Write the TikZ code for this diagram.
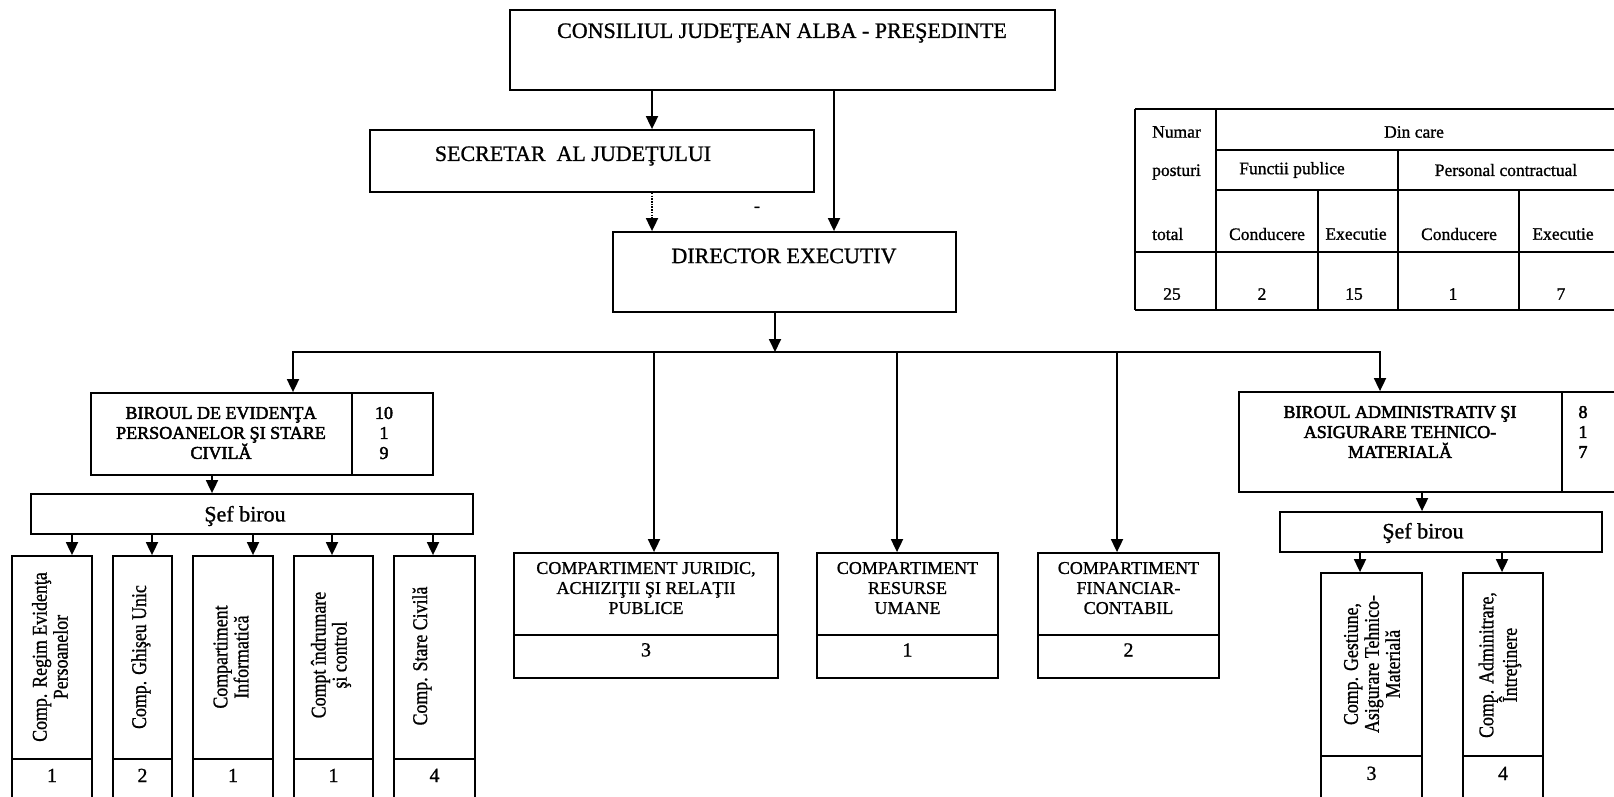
\documentclass[tikz,border=0pt]{standalone}
\usepackage{fontspec}
\setmainfont{Liberation Serif}[FakeBold=1]
\newfontfamily\heavyfont{Liberation Serif}[FakeBold=2.5]
\usepackage{tikz}
\usetikzlibrary{arrows.meta}
\usetikzlibrary{fit}
\usetikzlibrary{positioning}

\newcommand{\szBig}{\fontsize{22}{25}\selectfont}
\newcommand{\szMid}{\fontsize{18}{20}\selectfont}
\newcommand{\szVert}{\fontsize{21}{21}\selectfont}
\newcommand{\szNum}{\fontsize{20}{22}\selectfont}
\newcommand{\szTab}{\fontsize{17.5}{20}\selectfont}

\tikzset{
    cell/.style={
           rectangle,
           draw=black, line width=1.8pt,
           inner sep=0pt,
           align=center,
           },
    txt/.style={inner sep=0pt, align=center},
    vtxt/.style={inner sep=0pt, align=center, rotate=90, xscale=0.85, font=\szVert},
    link/.style={line width=1.8pt},
    arr/.style={link, ->},
}

\begin{document}
\begin{tikzpicture}[x=1pt, y=-1pt, >={Triangle[width=12pt,length=13pt]}]

 % page frame of the reference
 \path[use as bounding box, fill=white] (0,0) rectangle (1614,796);

 % top of the chart
 \node[cell, fit={(510,10) (1055,90)}] (CONS) {};
 \node[txt, font=\szBig] (CONST) at (782,33) {CONSILIUL JUDEŢEAN ALBA - PREŞEDINTE};

 \node[cell, fit={(370,130) (814,192)}] (SEC) {};
 \node[txt, font=\szBig] (SECT) at (573,156) {SECRETAR\ \ AL JUDEŢULUI};

 \node[cell, fit={(613,232) (956,312)}] (DIR) {};
 \node[txt, font=\szBig] (DIRT) at (784,256) {DIRECTOR EXECUTIV};
 \node[txt, font=\szTab] (DASH) at (757,209) {-};

 \draw[arr] (CONS.south -| 652,0) -- (SEC.north -| 652,0);
 \draw[arr] (CONS.south -| 834,0) -- (DIR.north -| 834,0);
 \draw[arr, dash pattern=on 1.5pt off 1.2pt] (SEC.south -| 652,0) -- (DIR.north -| 652,0);

 % table of posts
 \draw[link] (1135,109) -- (1650,109);
 \draw[link] (1216,150) -- (1650,150);
 \draw[link] (1216,190) -- (1650,190);
 \draw[link] (1135,252) -- (1650,252);
 \draw[link] (1135,310) -- (1650,310);
 \draw[link] (1135,109) -- (1135,310);
 \draw[link] (1216,109) -- (1216,310);
 \draw[link] (1318,190) -- (1318,310);
 \draw[link] (1398,150) -- (1398,310);
 \draw[link] (1519,190) -- (1519,310);

 \node[txt, font=\szTab, anchor=west] (TNUM) at (1152,132) {Numar};
 \node[txt, font=\szTab, anchor=west] (TPOS) at (1152,172) {posturi};
 \node[txt, font=\szTab, anchor=west] (TTOT) at (1152,234) {total};
 \node[txt, font=\szTab] (TDIN) at (1414,132) {Din care};
 \node[txt, font=\szTab] (TFP) at (1292,170) {Functii publice};
 \node[txt, font=\szTab] (TPC) at (1506,170) {Personal contractual};
 \node[txt, font=\szTab] (TC1) at (1267,234) {Conducere};
 \node[txt, font=\szTab] (TE1) at (1356,234) {Executie};
 \node[txt, font=\szTab] (TC2) at (1459,234) {Conducere};
 \node[txt, font=\szTab] (TE2) at (1563,234) {Executie};
 \node[txt, font=\szTab] (V0) at (1172,294) {25};
 \node[txt, font=\szTab] (V1) at (1262,294) {2};
 \node[txt, font=\szTab] (V2) at (1354,294) {15};
 \node[txt, font=\szTab] (V3) at (1453,294) {1};
 \node[txt, font=\szTab] (V4) at (1561,294) {7};

 % birou evidenta persoanelor
 \node[cell, fit={(91,393) (433,475)}] (BEP) {};
 \draw[link] (BEP.north -| 352,0) -- (BEP.south -| 352,0);
 \node[txt, font=\szMid\heavyfont] (BEPT) at (221,433) {BIROUL DE EVIDENŢA\\PERSOANELOR ŞI STARE\\CIVILĂ};
 \node[txt, font=\szMid\heavyfont] (BEPN) at (384,433) {10\\1\\9};

 % birou administrativ
 \node[cell, fit={(1239,392) (1562,492)}] (BADM) {};
 \node[cell, fit={(1562,392) (1650,492)}] (BADMN) {};
 \node[txt, font=\szMid\heavyfont] (BADMT) at (1400,432) {BIROUL ADMINISTRATIV ŞI\\ASIGURARE TEHNICO-\\MATERIALĂ};
 \node[txt, font=\szMid\heavyfont] (BADMV) at (1583,432) {8\\1\\7};

 % bus from the director
 \coordinate (BUSL) at (293,352);
 \coordinate (BUSR) at (1380,352);
 \coordinate (JDIR) at (775,352);
 \coordinate (JJUR) at (654,352);
 \coordinate (JRES) at (897,352);
 \coordinate (JFIN) at (1117,352);
 \draw[link, <->] (BEP.north -| BUSL) -- (BUSL) -- (BUSR) -- (BADM.north -| BUSR);
 \draw[arr] (DIR.south -| JDIR) -- (JDIR);

 % compartimente
 \node[cell, fit={(514,553) (778,635)}, font=\szMid] (JUR) {COMPARTIMENT JURIDIC,\\ACHIZIŢII ŞI RELAŢII\\PUBLICE};
 \node[cell, fit={(514,635) (778,678)}, font=\szNum] (JURN) {3};
 \node[cell, fit={(817,553) (998,635)}, font=\szMid] (RES) {COMPARTIMENT\\RESURSE\\UMANE};
 \node[cell, fit={(817,635) (998,678)}, font=\szNum] (RESN) {1};
 \node[cell, fit={(1038,553) (1219,635)}, font=\szMid] (FIN) {COMPARTIMENT\\FINANCIAR-\\CONTABIL};
 \node[cell, fit={(1038,635) (1219,678)}, font=\szNum] (FINN) {2};

 \draw[arr] (JJUR) -- (JUR.north -| JJUR);
 \draw[arr] (JRES) -- (RES.north -| JRES);
 \draw[arr] (JFIN) -- (FIN.north -| JFIN);

 % sef birou, left
 \node[cell, fit={(31,494) (473,534)}] (SEF1) {};
 \node[txt, font=\szBig] (SEF1T) at (245,516) {Şef birou};
 \draw[arr] (BEP.south -| 212,0) -- (SEF1.north -| 212,0);

 \node[cell, fit={(12,556) (92,759)}] (C1) {};
 \node[cell, fit={(12,759) (92,805)}, font=\szNum] (C1N) {1};
 \node[vtxt] (C1T) at (50,657) {Comp. Regim Evidenţa\\Persoanelor};

 \node[cell, fit={(113,556) (172,759)}] (C2) {};
 \node[cell, fit={(113,759) (172,805)}, font=\szNum] (C2N) {2};
 \node[vtxt] (C2T) at (141,657) {Comp. Ghişeu Unic};

 \node[cell, fit={(193,556) (273,759)}] (C3) {};
 \node[cell, fit={(193,759) (273,805)}, font=\szNum] (C3N) {1};
 \node[vtxt] (C3T) at (231,657) {Compartiment\\Informatică};

 \node[cell, fit={(294,556) (373,759)}] (C4) {};
 \node[cell, fit={(294,759) (373,805)}, font=\szNum] (C4N) {1};
 \node[vtxt] (C4T) at (331,655) {Compt îndrumare\\şi control};

 \node[cell, fit={(394,556) (475,759)}] (C5) {};
 \node[cell, fit={(394,759) (475,805)}, font=\szNum] (C5N) {4};
 \node[vtxt] (C5T) at (422,656) {Comp. Stare Civilă};

 \draw[arr] (SEF1.south -| 72,0) -- (C1.north -| 72,0);
 \draw[arr] (SEF1.south -| 152,0) -- (C2.north -| 152,0);
 \draw[arr] (SEF1.south -| 253,0) -- (C3.north -| 253,0);
 \draw[arr] (SEF1.south -| 332,0) -- (C4.north -| 332,0);
 \draw[arr] (SEF1.south -| 433,0) -- (C5.north -| 433,0);

 % sef birou, right
 \node[cell, fit={(1280,512) (1602,552)}] (SEF2) {};
 \node[txt, font=\szBig] (SEF2T) at (1423,533) {Şef birou};
 \draw[arr] (BADM.south -| 1422,0) -- (SEF2.north -| 1422,0);

 \node[cell, fit={(1321,573) (1422,756)}] (G1) {};
 \node[cell, fit={(1321,756) (1422,804)}, font=\szNum] (G1N) {3};
 \node[vtxt] (G1T) at (1372,664) {Comp. Gestiune,\\Asigurare Tehnico-\\Materială};

 \node[cell, fit={(1463,573) (1543,756)}] (G2) {};
 \node[cell, fit={(1463,756) (1543,804)}, font=\szNum] (G2N) {4};
 \node[vtxt] (G2T) at (1500,665) {Comp. Adminitrare,\\Întreţinere};

 \draw[arr] (SEF2.south -| 1360,0) -- (G1.north -| 1360,0);
 \draw[arr] (SEF2.south -| 1502,0) -- (G2.north -| 1502,0);

\end{tikzpicture}
\end{document}
